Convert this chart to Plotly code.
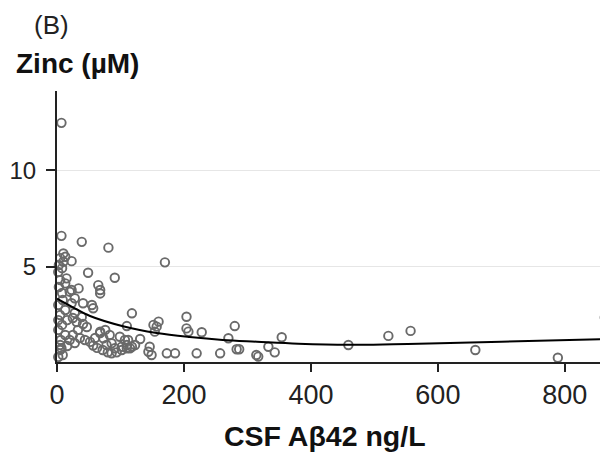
import plotly.graph_objects as go

# Scatter data: CSF Abeta42 (ng/L) vs Zinc (uM)
abeta42 = [7, 7, 39, 81, 170, 10, 13, 5, 10, 23, 3, 8, 49, 91, 2, 15, 13, 5, 65, 68,
           34, 23, 3, 8, 20, 28, 23, 41, 55, 57, 68, 9, 2, 13, 5, 16, 8, 2, 13, 6,
           16, 5, 28, 25, 31, 39, 41, 47, 33, 25, 20, 28, 36, 44, 52, 60, 68, 76, 83, 63,
           57, 72, 80, 86, 94, 102, 110, 115, 123, 131, 112, 144, 149, 146, 173, 186, 220, 257, 283, 287,
           314, 317, 333, 343, 354, 280, 270, 228, 204, 204, 207, 160, 152, 157, 154, 118, 110, 118, 459, 522,
           557, 659, 789, 863, 68, 73, 78, 86, 91, 99, 107, 102, 110, 2, 5, 9, 2, 7]
zinc = [12.45, 6.60, 6.29, 5.99, 5.23, 5.69, 5.52, 5.45, 5.26, 5.29, 5.09, 4.93, 4.69, 4.43, 4.73, 4.40, 4.14, 4.31, 4.05, 3.80,
        3.88, 3.80, 3.95, 3.64, 3.71, 3.37, 3.11, 3.11, 3.02, 2.85, 3.62, 3.28, 3.02, 2.76, 2.50, 2.24, 1.99, 1.73, 1.47, 1.21,
        0.90, 0.69, 2.61, 2.35, 2.14, 2.40, 2.04, 1.88, 1.73, 1.47, 1.21, 1.05, 1.31, 1.21, 1.11, 1.31, 1.57, 1.73, 1.47, 0.80,
        0.92, 0.69, 0.57, 0.52, 0.57, 0.86, 0.95, 0.78, 0.95, 1.26, 1.21, 0.60, 0.43, 0.86, 0.52, 0.52, 0.52, 0.52, 0.73, 0.73,
        0.43, 0.35, 0.86, 0.57, 1.35, 1.93, 1.30, 1.61, 2.41, 1.81, 1.64, 2.16, 1.99, 1.90, 1.64, 2.59, 1.93, 0.86, 0.95, 1.42,
        1.68, 0.69, 0.29, 2.38, 1.64, 1.30, 0.95, 1.04, 0.78, 1.38, 1.21, 0.69, 0.78, 2.24, 0.95, 0.43, 0.33, 0.78]

# Fitted smooth curve
fit_x = [0, 25, 52, 104, 157, 209, 261, 315, 380, 458, 530, 603, 700, 863]
fit_y = [3.35, 2.9, 2.45, 1.92, 1.57, 1.36, 1.21, 1.12, 1.02, 0.96, 0.99, 1.04, 1.12, 1.25]

x_ticks = [0, 200, 400, 600, 800]
y_ticks = [5, 10]

fig = go.Figure()
fig.add_trace(go.Scatter(
    x=abeta42, y=zinc, mode="markers",
    marker=dict(symbol="circle-open", size=8.5, color="#6a6a6a", line=dict(width=1.9)),
    showlegend=False, cliponaxis=False,
))
fig.add_trace(go.Scatter(
    x=fit_x, y=fit_y, mode="lines",
    line=dict(color="black", width=2, shape="spline"),
    showlegend=False,
))

font_family = "Liberation Sans, Arial, sans-serif"

# page body has an 8px margin: figure is 600x446 placed at (8, 8)
OFF = 8
W, H = 600, 446
l, r, t, b = 57 - OFF, 0, 91 - OFF, 92
pw, ph = W - l - r, H - t - b


def px_to_paper(px, py):
    # px, py are page coordinates
    return (px - OFF - l) / pw, (H - b - (py - OFF)) / ph


ann_specs = [
    ("(B)", 32, 25, "left", 26, "#222", False),
    ("Zinc (µM)", 14, 63, "left", 28, "#111", True),
    ("CSF Aβ42 ng/L", 325, 436, "center", 28.5, "#111", True),
]
annotations = []
for text, px, py, xa, size, col, bold in ann_specs:
    ax_, ay_ = px_to_paper(px, py)
    annotations.append(dict(text=f"<b>{text}</b>" if bold else text,
                            x=ax_, y=ay_, xref="paper", yref="paper",
                            showarrow=False, xanchor=xa, yanchor="middle",
                            font=dict(size=size, color=col)))

fig.update_layout(
    width=W, height=H,
    margin=dict(l=l, r=r, t=t, b=b, autoexpand=False),
    paper_bgcolor="white", plot_bgcolor="white",
    font=dict(family=font_family, color="#222"),
    xaxis=dict(
        range=[0, 868], tickvals=x_ticks, ticktext=[str(v) for v in x_ticks],
        showline=True, linecolor="#222", linewidth=2,
        ticks="outside", ticklen=8, tickwidth=2, tickcolor="#222",
        showgrid=False, zeroline=False, automargin=False,
        tickfont=dict(size=27, color="#222"),
    ),
    yaxis=dict(
        range=[0.07, 14.1], tickvals=y_ticks, ticktext=[str(v) for v in y_ticks],
        showline=True, linecolor="#222", linewidth=2,
        ticks="outside", ticklen=9, tickwidth=2, tickcolor="#222",
        showgrid=True, gridcolor="#e6e6e6", gridwidth=1,
        zeroline=False, automargin=False,
        tickfont=dict(size=24, color="#222"),
        ticklabelstandoff=5,
    ),
    annotations=annotations,
)

fig.write_html("out.html")
